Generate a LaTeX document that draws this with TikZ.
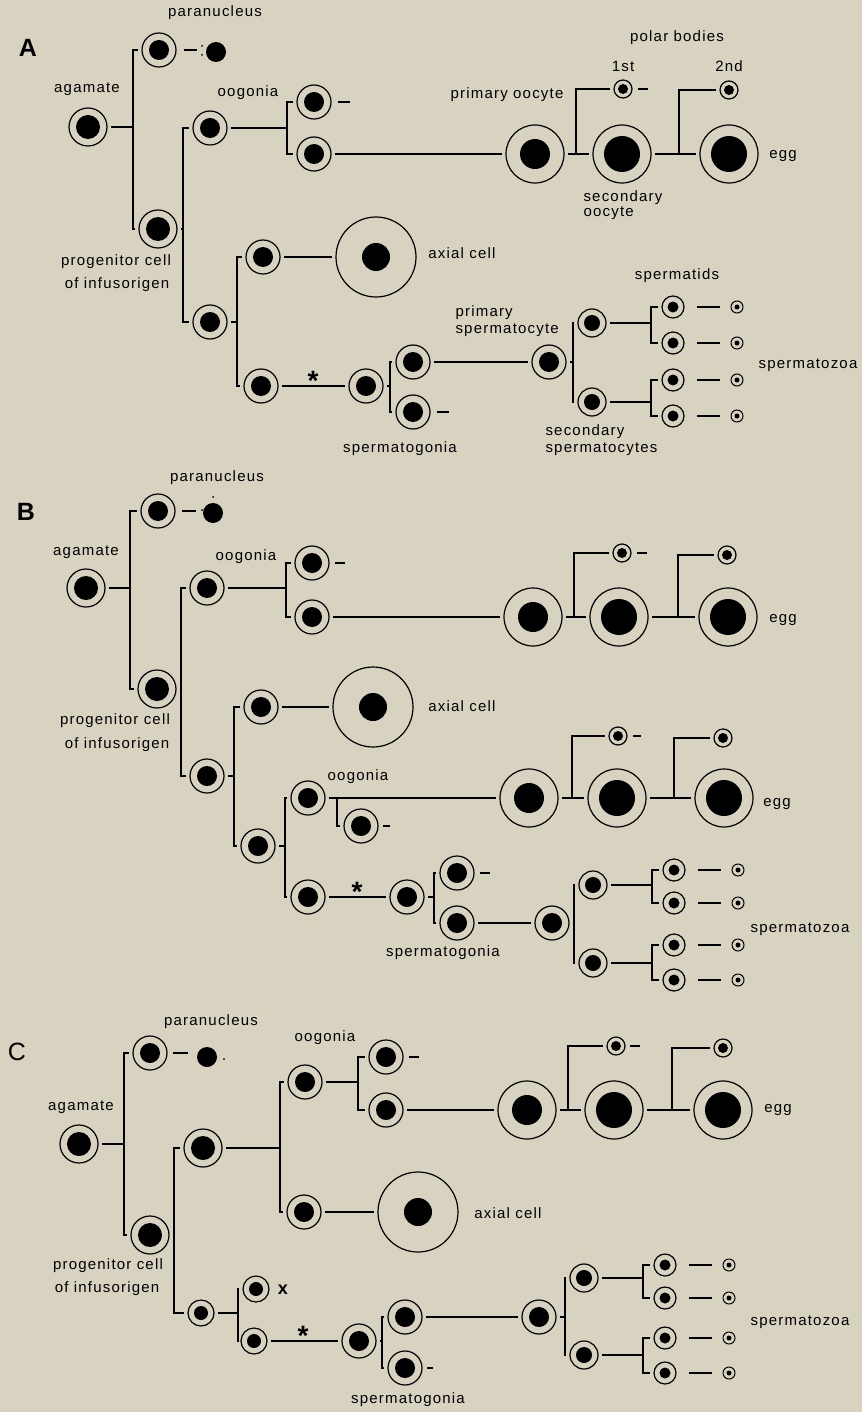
\documentclass[tikz,border=0pt]{standalone}
\usepackage{fontspec}
\setmainfont{Liberation Sans}[LetterSpace=8]
\definecolor{bg}{RGB}{216,210,193}
\newcommand\brkt[4]{\coordinate (tmpb) at (#4,0);
  \draw (#2.west) -- (#2.west -| tmpb) -- (#3.west -| tmpb) -- (#3.west);
  \draw (#1.east) -- (#1.east -| tmpb);}
\newcommand\polc[4]{\coordinate (tmpb) at (#4,0);
  \draw (#1.east) -- (#2.west);
  \draw (#1.east -| tmpb) -- (#3.west -| tmpb) -- (#3.west);}
\newcommand\zdash[2]{\draw ([xshift=9pt]#1.east) -- ([xshift=-7pt]#2.west);}
\tikzset{
  lbl/.style={font=\fontsize{15}{17}\selectfont, inner sep=0pt},
  panel/.style={font=\fontsize{25}{25}\selectfont\bfseries, inner sep=0pt},
  ast/.style={font=\fontsize{28}{28}\selectfont\bfseries, inner sep=0pt},
  cell/.style n args={2}{circle, draw, line width=1.2pt, minimum size=#1, inner sep=0pt, outer sep=4pt,
    path picture={\fill (path picture bounding box.center) circle[radius=#2];}},
  big/.style={cell={38pt}{12pt}},
  std/.style={cell={34pt}{10pt}},
  sm/.style={cell={28pt}{8pt}},
  tny/.style={cell={26pt}{7pt}},
  tid/.style={cell={22pt}{5.5pt}},
  zoa/.style={cell={12pt}{2.5pt}, line width=1pt},
  polar/.style={cell={18pt}{5pt}},
  oocA/.style={cell={58pt}{15pt}},
  oocB/.style={cell={58pt}{18pt}},
  axial/.style={cell={80pt}{14pt}},
  pdot/.style={circle, fill, minimum size=20pt, inner sep=0pt, outer sep=0pt},
}
\begin{document}
\begin{tikzpicture}[x=1pt, y=-1pt, line width=1.1pt]
\fill[bg] (0,0) rectangle (862,1412);
\useasboundingbox (0,0) rectangle (862,1412);

% ================= Panel A =================
\node[panel] (lA) at (28,48) {A};
\node[lbl] (tApn) at (215,13) {paranucleus};
\node[std] (Apa) at (159,50) {};
\node[pdot] (Apn) at (216,52) {};
\fill (202,46) circle[radius=1pt]; \fill (202,55) circle[radius=1pt];
\draw ([xshift=4pt]Apa.east) -- ++(13,0);
\node[lbl] (tAag) at (87,89) {agamate};
\node[big] (Aag) at (88,127) {};
\node[big] (Apr) at (158,229) {};
\brkt{Aag}{Apa}{Apr}{133}
\node[lbl] (tApr1) at (116,262) {progenitor cell};
\node[lbl] (tApr2) at (117,285) {of infusorigen};
\node[std] (Aoo) at (210,128) {};
\node[std] (Ax0) at (210,322) {};
\brkt{Apr}{Aoo}{Ax0}{183}
\node[lbl] (tAoo) at (248,93) {oogonia};
\node[std] (Ao1) at (314,102) {};
\node[std] (Ao2) at (314,154) {};
\brkt{Aoo}{Ao1}{Ao2}{287}
\draw ([xshift=3pt]Ao1.east) -- ++(12,0);
\node[oocA] (Apo) at (535,154) {};
\node[oocB] (Aso) at (622,154) {};
\node[oocB] (Aeg) at (729,154) {};
\node[polar] (Apb1) at (623,89) {};
\node[polar] (Apb2) at (729,90) {};
\draw (Ao2.east) -- (Apo.west);
\polc{Apo}{Aso}{Apb1}{576}
\polc{Aso}{Aeg}{Apb2}{679}
\draw ([xshift=2pt]Apb1.east) -- ++(10,0);
\node[lbl] (tApoo) at (507,95) {primary oocyte};
\node[lbl] (tApol) at (677,38) {polar bodies};
\node[lbl] (tA1st) at (623,66) {1st};
\node[lbl] (tA2nd) at (729,66) {2nd};
\node[lbl] (tAegg) at (783,156) {egg};
\node[lbl, anchor=west] (tAso1) at (583,198) {secondary};
\node[lbl, anchor=west] (tAso2) at (583,213) {oocyte};
% axial branch
\node[std] (Ax1) at (263,257) {};
\node[std] (Asg0) at (261,386) {};
\brkt{Ax0}{Ax1}{Asg0}{237}
\node[axial] (Aax) at (376,257) {};
\draw (Ax1.east) -- (Aax.west);
\node[lbl] (tAax) at (462,253) {axial cell};
% sperm branch
\node[std] (Asg) at (366,386) {};
\draw (Asg0.east) -- (Asg.west);
\node[ast] (Aast) at (313,381) {*};
\node[std] (Ag1) at (413,362) {};
\node[std] (Ag2) at (413,412) {};
\brkt{Asg}{Ag1}{Ag2}{390}
\draw ([xshift=3pt]Ag2.east) -- ++(12,0);
\node[lbl] (tAsg) at (400,449) {spermatogonia};
\node[std] (Aps) at (549,362) {};
\draw (Ag1.east) -- (Aps.west);
\node[lbl, anchor=west] (tAps1) at (455,313) {primary};
\node[lbl, anchor=west] (tAps2) at (455,330) {spermatocyte};
\node[sm] (As1) at (592,323) {};
\node[sm] (As2) at (592,402) {};
\brkt{Aps}{As1}{As2}{573}
\node[tid] (At1) at (673,307) {};
\node[tid] (At2) at (673,343) {};
\node[tid] (At3) at (673,380) {};
\node[tid] (At4) at (673,416) {};
\brkt{As1}{At1}{At2}{651}
\brkt{As2}{At3}{At4}{651}
\node[zoa] (Az1) at (737,307) {};
\node[zoa] (Az2) at (737,343) {};
\node[zoa] (Az3) at (737,380) {};
\node[zoa] (Az4) at (737,416) {};
\zdash{At1}{Az1}\zdash{At2}{Az2}\zdash{At3}{Az3}\zdash{At4}{Az4}
\node[lbl] (tAtid) at (677,276) {spermatids};
\node[lbl] (tAzoa) at (808,365) {spermatozoa};
\node[lbl, anchor=west] (tAss1) at (545,432) {secondary};
\node[lbl, anchor=west] (tAss2) at (545,449) {spermatocytes};

% ================= Panel B =================
\node[panel] (lB) at (26,512) {B};
\node[lbl] (tBpn) at (217,478) {paranucleus};
\node[std] (Bpa) at (158,511) {};
\node[pdot] (Bpn) at (213,513) {};
\fill (202,510) circle[radius=1pt]; \fill (213,497) circle[radius=1pt];
\draw ([xshift=3pt]Bpa.east) -- ++(14,0);
\node[lbl] (tBag) at (86,552) {agamate};
\node[big] (Bag) at (86,588) {};
\node[big] (Bpr) at (157,689) {};
\brkt{Bag}{Bpa}{Bpr}{130}
\node[lbl] (tBpr1) at (115,721) {progenitor cell};
\node[lbl] (tBpr2) at (117,745) {of infusorigen};
\node[std] (Boo) at (207,588) {};
\node[std] (Bx0) at (207,776) {};
\brkt{Bpr}{Boo}{Bx0}{181}
\node[lbl] (tBoo) at (246,557) {oogonia};
\node[std] (Bo1) at (312,563) {};
\node[std] (Bo2) at (312,617) {};
\brkt{Boo}{Bo1}{Bo2}{286}
\draw ([xshift=2pt]Bo1.east) -- ++(10,0);
\node[oocA] (Bpo) at (533,617) {};
\node[oocB] (Bso) at (619,617) {};
\node[oocB] (Beg) at (728,617) {};
\node[polar] (Bpb1) at (622,553) {};
\node[polar] (Bpb2) at (727,555) {};
\draw (Bo2.east) -- (Bpo.west);
\polc{Bpo}{Bso}{Bpb1}{574}
\polc{Bso}{Beg}{Bpb2}{678}
\draw ([xshift=2pt]Bpb1.east) -- ++(10,0);
\node[lbl] (tBegg) at (783,620) {egg};
% axial branch
\node[std] (Bx1) at (261,707) {};
\node[std] (Bx2) at (258,846) {};
\brkt{Bx0}{Bx1}{Bx2}{234}
\node[axial] (Bax) at (373,707) {};
\draw (Bx1.east) -- (Bax.west);
\node[lbl] (tBax) at (462,706) {axial cell};
% second oogonia
\node[std] (Boo2) at (308,798) {};
\node[std] (Bsg0) at (308,897) {};
\brkt{Bx2}{Boo2}{Bsg0}{285}
\node[lbl] (tBoo2) at (358,777) {oogonia};
\node[std] (Bo3) at (361,826) {};
\node[oocA] (Bpo2) at (529,798) {};
\draw (Boo2.east) -- (Bpo2.west);
\coordinate (Bbr) at (337,0);
\draw (Boo2.east -| Bbr) -- (Bo3.west -| Bbr) -- (Bo3.west);
\draw ([xshift=1pt]Bo3.east) -- ++(7,0);
\node[oocB] (Bso2) at (617,798) {};
\node[oocB] (Beg2) at (724,798) {};
\node[polar] (Bpb3) at (618,736) {};
\node[polar] (Bpb4) at (723,738) {};
\polc{Bpo2}{Bso2}{Bpb3}{572}
\polc{Bso2}{Beg2}{Bpb4}{674}
\draw ([xshift=2pt]Bpb3.east) -- ++(8,0);
\node[lbl] (tBegg2) at (777,804) {egg};
% sperm branch
\node[std] (Bsg) at (407,897) {};
\draw (Bsg0.east) -- (Bsg.west);
\node[ast] (Bast) at (357,892) {*};
\node[std] (Bg1) at (457,873) {};
\node[std] (Bg2) at (457,923) {};
\brkt{Bsg}{Bg1}{Bg2}{434}
\draw ([xshift=2pt]Bg1.east) -- ++(10,0);
\node[lbl] (tBsg) at (443,953) {spermatogonia};
\node[std] (Bps) at (552,923) {};
\draw (Bg2.east) -- (Bps.west);
\node[sm] (Bs1) at (593,885) {};
\node[sm] (Bs2) at (593,963) {};
\brkt{Bps}{Bs1}{Bs2}{574}
\node[tid] (Bt1) at (674,870) {};
\node[tid] (Bt2) at (674,903) {};
\node[tid] (Bt3) at (674,945) {};
\node[tid] (Bt4) at (674,980) {};
\brkt{Bs1}{Bt1}{Bt2}{652}
\brkt{Bs2}{Bt3}{Bt4}{652}
\node[zoa] (Bz1) at (738,870) {};
\node[zoa] (Bz2) at (738,903) {};
\node[zoa] (Bz3) at (738,945) {};
\node[zoa] (Bz4) at (738,980) {};
\zdash{Bt1}{Bz1}\zdash{Bt2}{Bz2}\zdash{Bt3}{Bz3}\zdash{Bt4}{Bz4}
\node[lbl] (tBzoa) at (800,929) {spermatozoa};

% ================= Panel C =================
\node[font=\fontsize{25}{25}\selectfont, inner sep=0pt] (lC) at (17,1052) {C};
\node[lbl] (tCpn) at (211,1022) {paranucleus};
\node[std] (Cpa) at (150,1053) {};
\node[pdot] (Cpn) at (207,1057) {};
\fill (224,1059) circle[radius=1pt];
\draw ([xshift=2pt]Cpa.east) -- ++(15,0);
\node[lbl] (tCag) at (81,1107) {agamate};
\node[big] (Cag) at (79,1144) {};
\node[big] (Cpr) at (150,1235) {};
\brkt{Cag}{Cpa}{Cpr}{124}
\node[lbl] (tCpr1) at (108,1266) {progenitor cell};
\node[lbl] (tCpr2) at (107,1289) {of infusorigen};
\node[big] (Cup) at (203,1148) {};
\node[tny] (Clo) at (201,1313) {};
\brkt{Cpr}{Cup}{Clo}{174}
\node[std] (Coo) at (305,1082) {};
\node[std] (Cx1) at (304,1212) {};
\brkt{Cup}{Coo}{Cx1}{280}
\node[lbl] (tCoo) at (325,1038) {oogonia};
\node[std] (Co1) at (386,1057) {};
\node[std] (Co2) at (386,1110) {};
\brkt{Coo}{Co1}{Co2}{358}
\draw ([xshift=2pt]Co1.east) -- ++(10,0);
\node[oocA] (Cpo) at (527,1110) {};
\node[oocB] (Cso) at (614,1110) {};
\node[oocB] (Ceg) at (723,1110) {};
\node[polar] (Cpb1) at (616,1046) {};
\node[polar] (Cpb2) at (723,1048) {};
\draw (Co2.east) -- (Cpo.west);
\polc{Cpo}{Cso}{Cpb1}{568}
\polc{Cso}{Ceg}{Cpb2}{672}
\draw ([xshift=1pt]Cpb1.east) -- ++(10,0);
\node[lbl] (tCegg) at (778,1110) {egg};
\node[axial] (Cax) at (418,1212) {};
\draw (Cx1.east) -- (Cax.west);
\node[lbl] (tCax) at (508,1213) {axial cell};
% sperm branch
\node[tny] (Cxx) at (256,1289) {};
\node[tny] (Cl2) at (254,1341) {};
\brkt{Clo}{Cxx}{Cl2}{238}
\node[font=\fontsize{18}{18}\selectfont\bfseries, inner sep=0pt] (Ccross) at (283,1290) {x};
\node[std] (Csg) at (359,1341) {};
\draw (Cl2.east) -- (Csg.west);
\node[ast] (Cast) at (303,1336) {*};
\node[std] (Cg1) at (405,1317) {};
\node[std] (Cg2) at (405,1368) {};
\brkt{Csg}{Cg1}{Cg2}{382}
\draw ([xshift=1pt]Cg2.east) -- ++(6,0);
\node[lbl] (tCsg) at (408,1400) {spermatogonia};
\node[std] (Cps) at (539,1317) {};
\draw (Cg1.east) -- (Cps.west);
\node[sm] (Cs1) at (584,1278) {};
\node[sm] (Cs2) at (584,1355) {};
\brkt{Cps}{Cs1}{Cs2}{565}
\node[tid] (Ct1) at (665,1265) {};
\node[tid] (Ct2) at (665,1298) {};
\node[tid] (Ct3) at (665,1338) {};
\node[tid] (Ct4) at (665,1373) {};
\brkt{Cs1}{Ct1}{Ct2}{643}
\brkt{Cs2}{Ct3}{Ct4}{643}
\node[zoa] (Cz1) at (729,1265) {};
\node[zoa] (Cz2) at (729,1298) {};
\node[zoa] (Cz3) at (729,1338) {};
\node[zoa] (Cz4) at (729,1373) {};
\zdash{Ct1}{Cz1}\zdash{Ct2}{Cz2}\zdash{Ct3}{Cz3}\zdash{Ct4}{Cz4}
\node[lbl] (tCzoa) at (800,1322) {spermatozoa};
\end{tikzpicture}
\end{document}
